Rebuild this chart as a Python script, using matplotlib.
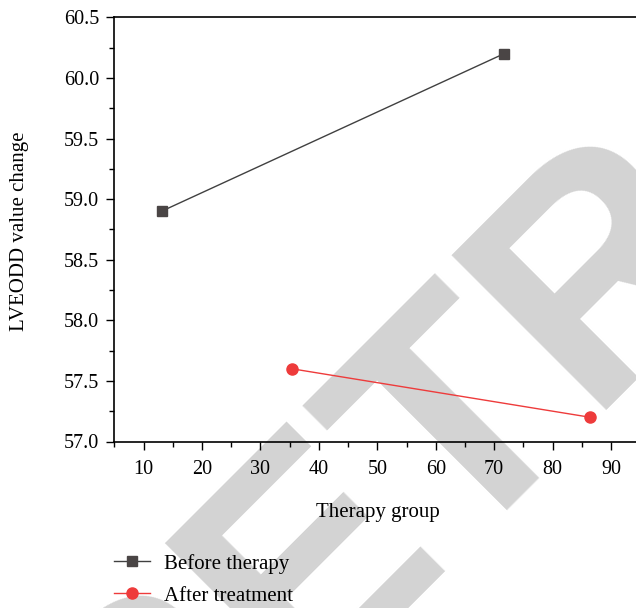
import matplotlib
matplotlib.use("Agg")
import matplotlib.pyplot as plt
from matplotlib.ticker import MultipleLocator, FormatStrFormatter

before_x = [13.1, 71.7]
before_y = [58.9, 60.2]
after_x = [35.4, 86.4]
after_y = [57.6, 57.2]
series_labels = ["Before therapy", "After treatment"]
x_label = "Therapy group"
y_label = "LVEODD value change"
watermark = "RETRACTED"

plt.rcParams['font.family'] = ['Liberation Serif', 'DejaVu Serif']

fig = plt.figure(figsize=(6.36, 6.08), dpi=100)
W, H = 636, 608
left, right, top, bottom = 114.3, 669.5, 17.3, 441.5
ax = fig.add_axes([left / W, 1 - bottom / H, (right - left) / W, (bottom - top) / H])
ax.patch.set_facecolor('none')

# watermark (ink-left of first letter at the given pixel, baseline along 45 deg)
fig.text(136.5 / W, 1 - 858.5 / H, watermark, fontsize=229, fontweight='bold',
         family='Liberation Sans', color='#d3d3d3', rotation=45,
         ha='left', va='baseline', rotation_mode='anchor', zorder=-1)

l1, = ax.plot(before_x, before_y, color='#404040', lw=1.0, marker='s', ms=7,
              markerfacecolor='#4a4545', markeredgecolor='#4a4545', label=series_labels[0])
l2, = ax.plot(after_x, after_y, color='#ee3b3b', lw=1.0, marker='o', ms=8,
              markerfacecolor='#ee3b3b', markeredgecolor='#ee3b3b', label=series_labels[1])

ax.set_xlim(5, 100)
ax.set_ylim(57.0, 60.5)
ax.xaxis.set_minor_locator(MultipleLocator(5))
ax.yaxis.set_major_locator(MultipleLocator(0.5))
ax.yaxis.set_minor_locator(MultipleLocator(0.25))
ax.yaxis.set_major_formatter(FormatStrFormatter('%.1f'))
ax.set_xticks([10, 20, 30, 40, 50, 60, 70, 80, 90])
ax.tick_params(which='major', length=6, width=1.0, labelsize=14.5, direction='out')
ax.tick_params(which='minor', length=3.6, width=1.0, direction='out')
ax.tick_params(axis='x', pad=7)
ax.tick_params(axis='y', pad=5)
for s in ax.spines.values():
    s.set_linewidth(1.2)
ax.spines['right'].set_visible(False)

fig.text(377.5 / W, 1 - 513 / H, x_label, fontsize=15, ha='center', va='center')
fig.text(20 / W, 1 - 231 / H, y_label, rotation=90, fontsize=15, ha='center', va='center')

fig.legend(handles=[l1, l2], loc='upper left', bbox_to_anchor=(97 / W, 1 - 537 / H),
           frameon=False, fontsize=15, handlelength=1.75, labelspacing=0.6,
           handletextpad=0.65, borderpad=0.3)

fig.savefig('out.png', dpi=100)
